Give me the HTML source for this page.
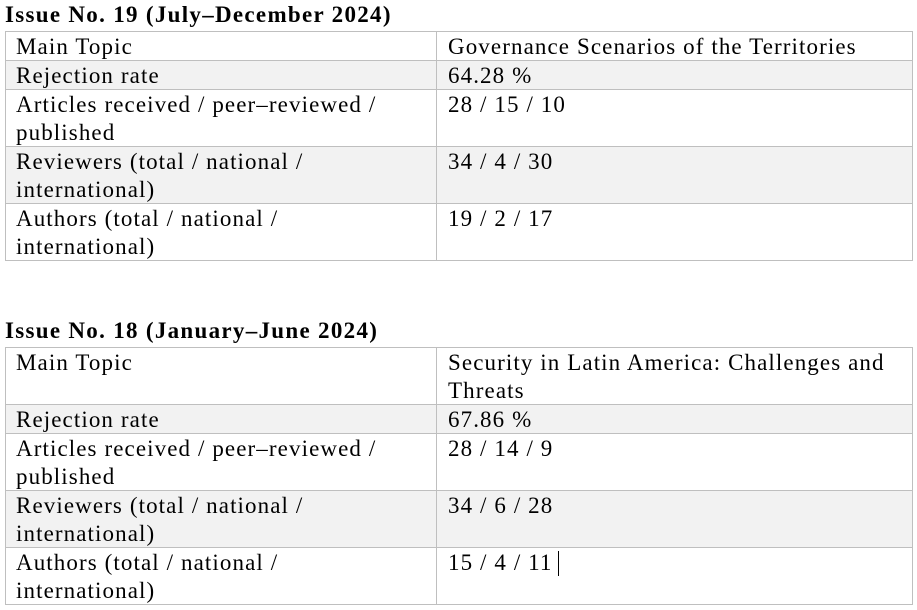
<!DOCTYPE html>
<html><head><meta charset="utf-8"><style>
body{margin:0;width:917px;height:610px;background:#fff;position:relative;overflow:hidden;font-family:"Liberation Serif",serif;color:#000}
.t{position:absolute;font-size:23px;line-height:28px;white-space:nowrap;letter-spacing:1.1px}
.b{font-weight:bold;font-size:23px;letter-spacing:1.3px}
.r{position:absolute;left:5px;width:908px;border:1px solid #bfbfbf;box-sizing:border-box}
.g{background:#f2f2f2}
.v{position:absolute;left:436px;width:1px;background:#bfbfbf}
</style></head><body>
<div class="r" style="top:31px;height:30px"></div>
<div class="r g" style="top:60px;height:30px"></div>
<div class="r" style="top:89px;height:58px"></div>
<div class="r g" style="top:146px;height:58px"></div>
<div class="r" style="top:203px;height:58px"></div>
<div class="v" style="top:31px;height:230px"></div>

<div class="r" style="top:347px;height:58px"></div>
<div class="r g" style="top:404px;height:30px"></div>
<div class="r" style="top:433px;height:58px"></div>
<div class="r g" style="top:490px;height:58px"></div>
<div class="r" style="top:547px;height:58px"></div>
<div class="v" style="top:347px;height:258px"></div>

<div class="t b" style="left:5px;top:1px">Issue No. 19 (July–December 2024)</div>
<div class="t" style="left:16px;top:33px">Main Topic</div>
<div class="t" style="left:448px;top:33px">Governance Scenarios of the Territories</div>
<div class="t" style="left:16px;top:62px">Rejection rate</div>
<div class="t" style="left:448px;top:62px">64.28 %</div>
<div class="t" style="left:16px;top:91px">Articles received / peer–reviewed /</div>
<div class="t" style="left:16px;top:119px">published</div>
<div class="t" style="left:448px;top:91px">28 / 15 / 10</div>
<div class="t" style="left:16px;top:148px">Reviewers (total / national /</div>
<div class="t" style="left:16px;top:176px">international)</div>
<div class="t" style="left:448px;top:148px">34 / 4 / 30</div>
<div class="t" style="left:16px;top:205px">Authors (total / national /</div>
<div class="t" style="left:16px;top:233px">international)</div>
<div class="t" style="left:448px;top:205px">19 / 2 / 17</div>

<div class="t b" style="left:5px;top:317px">Issue No. 18 (January–June 2024)</div>
<div class="t" style="left:16px;top:349px">Main Topic</div>
<div class="t" style="left:448px;top:349px">Security in Latin America: Challenges and</div>
<div class="t" style="left:448px;top:377px">Threats</div>
<div class="t" style="left:16px;top:406px">Rejection rate</div>
<div class="t" style="left:448px;top:406px">67.86 %</div>
<div class="t" style="left:16px;top:435px">Articles received / peer–reviewed /</div>
<div class="t" style="left:16px;top:463px">published</div>
<div class="t" style="left:448px;top:435px">28 / 14 / 9</div>
<div class="t" style="left:16px;top:492px">Reviewers (total / national /</div>
<div class="t" style="left:16px;top:520px">international)</div>
<div class="t" style="left:448px;top:492px">34 / 6 / 28</div>
<div class="t" style="left:16px;top:549px">Authors (total / national /</div>
<div class="t" style="left:16px;top:577px">international)</div>
<div class="t" style="left:448px;top:549px">15 / 4 / 11</div>
<div style="position:absolute;left:558px;top:551px;width:1px;height:25px;background:#000"></div>
</body></html>
